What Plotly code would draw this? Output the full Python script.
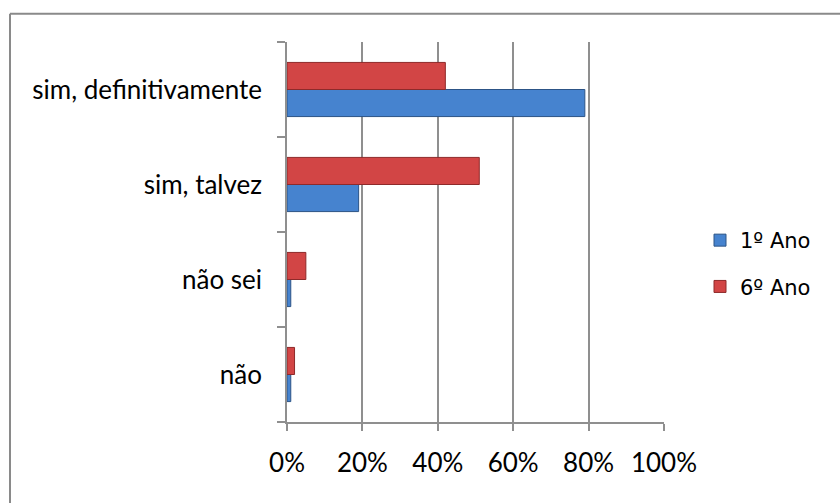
import plotly.graph_objects as go

# ---- data ----
categories = ["não", "não sei", "sim, talvez", "sim, definitivamente"]
ano1_values = [1, 1, 19, 79]
ano6_values = [2, 5, 51, 42]
series_names = ["1º Ano", "6º Ano"]
x_tick_values = [0, 20, 40, 60, 80, 100]
x_tick_labels = ["0%", "20%", "40%", "60%", "80%", "100%"]

# ---- layout constants ----
W, H = 840, 503
L, R, T, B = 287, 176, 42, 81
PW = W - L - R
PH = H - T - B


def px_x(p):
    return (p - L) / PW


def px_y(p):
    return 1 - (p - T) / PH


GRID = "#8f8f8f"

fig = go.Figure()
fig.add_trace(go.Bar(
    y=categories, x=ano1_values, orientation="h", name=series_names[0],
    marker=dict(color="#4683cf", line=dict(color="#2c5486", width=1)),
    legendgroup="a",
))
fig.add_trace(go.Bar(
    y=categories, x=ano6_values, orientation="h", name=series_names[1],
    marker=dict(color="#d24545", line=dict(color="#8e2a2a", width=1)),
    legendgroup="b",
))

fig.update_layout(
    width=W, height=H,
    margin=dict(l=L, r=R, t=T, b=B, pad=0, autoexpand=False),
    barmode="group", bargap=0.43, bargroupgap=0,
    paper_bgcolor="white", plot_bgcolor="white",
    font=dict(family="Lato", size=26, color="#000000"),
    xaxis=dict(
        range=[0, 100], tickmode="array", tickvals=x_tick_values, ticktext=x_tick_labels,
        showgrid=True, gridcolor=GRID, gridwidth=1.5,
        showline=True, linecolor=GRID, linewidth=1.5,
        ticks="outside", ticklen=7, tickcolor=GRID, tickwidth=1.5,
        ticklabelstandoff=10, zeroline=False, fixedrange=True,
    ),
    yaxis=dict(
        categoryorder="array", categoryarray=categories,
        showgrid=False, showline=True, linecolor=GRID, linewidth=1.5,
        ticks="outside", tickson="boundaries", ticklen=8, tickcolor=GRID, tickwidth=1.5,
        ticklabelstandoff=18, zeroline=False, fixedrange=True,
    ),
    legend=dict(
        x=px_x(700), y=px_y(220), xanchor="left", yanchor="top",
        font=dict(family="DejaVu Sans, Verdana, sans-serif", size=21, color="#000000"),
        tracegroupgap=16, bgcolor="rgba(0,0,0,0)", traceorder="grouped",
    ),
    shapes=[
        dict(type="line", xref="paper", yref="paper",
             x0=px_x(10), x1=px_x(W + 10), y0=px_y(13.7), y1=px_y(13.7),
             line=dict(color="#8a8a8a", width=2)),
        dict(type="line", xref="paper", yref="paper",
             x0=px_x(10), x1=px_x(10), y0=px_y(13.7), y1=px_y(H + 10),
             line=dict(color="#8a8a8a", width=2)),
    ],
)

fig.write_html("out.html", config={"displayModeBar": False},
               post_script="document.body.style.margin='0px';")
